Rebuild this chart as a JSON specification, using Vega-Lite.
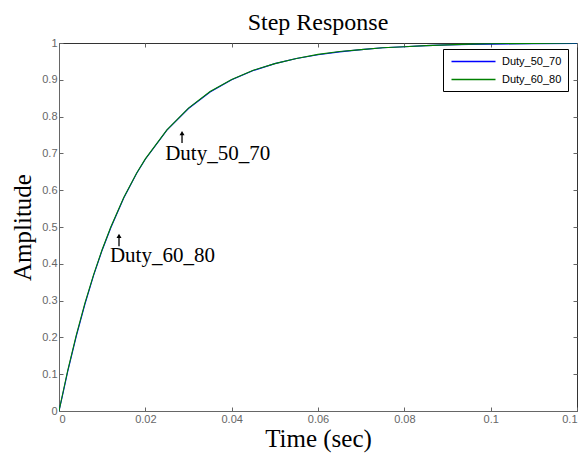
{
  "$schema": "https://vega.github.io/schema/vega-lite/v6.json",
  "width": 518,
  "height": 368,
  "autosize": {"type": "none"},
  "padding": {"left": 59, "top": 43, "right": 11, "bottom": 45},
  "background": "white",
  "title": {"text": "Step Response", "font": "Liberation Serif", "fontSize": 24, "fontWeight": "normal", "color": "black", "offset": 2},
  "config": {
    "view": {"stroke": "#333", "strokeWidth": 1},
    "axis": {"grid": false, "labelFont": "Liberation Sans", "labelFontSize": 11, "labelColor": "#666", "domainColor": "#666", "tickColor": "#666", "tickSize": -4, "format": "~g", "titleFont": "Liberation Serif", "titleFontSize": 25, "titleFontWeight": "normal", "titleColor": "black"}
  },
  "datasets": {
    "resp": [
      {"t": 0, "y": 0, "s": "Duty_50_70"},
      {"t": 0.001, "y": 0.052, "s": "Duty_50_70"},
      {"t": 0.002, "y": 0.106, "s": "Duty_50_70"},
      {"t": 0.004, "y": 0.203, "s": "Duty_50_70"},
      {"t": 0.006, "y": 0.290, "s": "Duty_50_70"},
      {"t": 0.008, "y": 0.368, "s": "Duty_50_70"},
      {"t": 0.010, "y": 0.437, "s": "Duty_50_70"},
      {"t": 0.012, "y": 0.498, "s": "Duty_50_70"},
      {"t": 0.015, "y": 0.579, "s": "Duty_50_70"},
      {"t": 0.018, "y": 0.646, "s": "Duty_50_70"},
      {"t": 0.020, "y": 0.684, "s": "Duty_50_70"},
      {"t": 0.025, "y": 0.763, "s": "Duty_50_70"},
      {"t": 0.030, "y": 0.822, "s": "Duty_50_70"},
      {"t": 0.035, "y": 0.867, "s": "Duty_50_70"},
      {"t": 0.040, "y": 0.900, "s": "Duty_50_70"},
      {"t": 0.045, "y": 0.925, "s": "Duty_50_70"},
      {"t": 0.050, "y": 0.944, "s": "Duty_50_70"},
      {"t": 0.055, "y": 0.958, "s": "Duty_50_70"},
      {"t": 0.060, "y": 0.968, "s": "Duty_50_70"},
      {"t": 0.065, "y": 0.976, "s": "Duty_50_70"},
      {"t": 0.070, "y": 0.982, "s": "Duty_50_70"},
      {"t": 0.075, "y": 0.987, "s": "Duty_50_70"},
      {"t": 0.080, "y": 0.990, "s": "Duty_50_70"},
      {"t": 0.085, "y": 0.993, "s": "Duty_50_70"},
      {"t": 0.090, "y": 0.995, "s": "Duty_50_70"},
      {"t": 0.095, "y": 0.996, "s": "Duty_50_70"},
      {"t": 0.100, "y": 0.997, "s": "Duty_50_70"},
      {"t": 0.110, "y": 0.998, "s": "Duty_50_70"},
      {"t": 0.120, "y": 0.999, "s": "Duty_50_70"},
      {"t": 0, "y": 0, "s": "Duty_60_80"},
      {"t": 0.001, "y": 0.055, "s": "Duty_60_80"},
      {"t": 0.002, "y": 0.109, "s": "Duty_60_80"},
      {"t": 0.004, "y": 0.206, "s": "Duty_60_80"},
      {"t": 0.006, "y": 0.293, "s": "Duty_60_80"},
      {"t": 0.008, "y": 0.370, "s": "Duty_60_80"},
      {"t": 0.010, "y": 0.439, "s": "Duty_60_80"},
      {"t": 0.012, "y": 0.500, "s": "Duty_60_80"},
      {"t": 0.015, "y": 0.580, "s": "Duty_60_80"},
      {"t": 0.018, "y": 0.647, "s": "Duty_60_80"},
      {"t": 0.020, "y": 0.685, "s": "Duty_60_80"},
      {"t": 0.025, "y": 0.764, "s": "Duty_60_80"},
      {"t": 0.030, "y": 0.823, "s": "Duty_60_80"},
      {"t": 0.035, "y": 0.868, "s": "Duty_60_80"},
      {"t": 0.040, "y": 0.901, "s": "Duty_60_80"},
      {"t": 0.045, "y": 0.926, "s": "Duty_60_80"},
      {"t": 0.050, "y": 0.944, "s": "Duty_60_80"},
      {"t": 0.055, "y": 0.958, "s": "Duty_60_80"},
      {"t": 0.060, "y": 0.969, "s": "Duty_60_80"},
      {"t": 0.065, "y": 0.977, "s": "Duty_60_80"},
      {"t": 0.070, "y": 0.982, "s": "Duty_60_80"},
      {"t": 0.075, "y": 0.987, "s": "Duty_60_80"},
      {"t": 0.080, "y": 0.990, "s": "Duty_60_80"},
      {"t": 0.085, "y": 0.993, "s": "Duty_60_80"},
      {"t": 0.090, "y": 0.995, "s": "Duty_60_80"},
      {"t": 0.095, "y": 0.997, "s": "Duty_60_80"},
      {"t": 0.100, "y": 0.998, "s": "Duty_60_80"},
      {"t": 0.110, "y": 0.999, "s": "Duty_60_80"},
      {"t": 0.120, "y": 1.0, "s": "Duty_60_80"}
    ],
    "notes": [
      {"t": 0.0285, "y0": 0.728, "y1": 0.755, "tx": 0.0246, "ty": 0.683, "label": "Duty_50_70"},
      {"t": 0.0139, "y0": 0.448, "y1": 0.476, "tx": 0.0118, "ty": 0.405, "label": "Duty_60_80"}
    ]
  },
  "layer": [
    {
      "data": {"name": "resp"},
      "mark": {"type": "line", "strokeWidth": 1.1, "clip": true},
      "encoding": {
        "x": {"field": "t", "type": "quantitative", "scale": {"domain": [0, 0.12], "nice": false}, "axis": {"title": "Time (sec)", "values": [0, 0.02, 0.04, 0.06, 0.08, 0.1, 0.12], "labelPadding": 6, "titlePadding": 2}},
        "y": {"field": "y", "type": "quantitative", "scale": {"domain": [0, 1], "nice": false}, "axis": {"title": "Amplitude", "values": [0, 0.1, 0.2, 0.3, 0.4, 0.5, 0.6, 0.7, 0.8, 0.9, 1], "labelPadding": 6, "titlePadding": 6}},
        "color": {"field": "s", "type": "nominal", "scale": {"domain": ["Duty_50_70", "Duty_60_80"], "range": ["#0000ff", "#008000"]},
          "legend": {"title": null, "orient": "none", "legendX": 384, "legendY": 6, "strokeColor": "black", "fillColor": "white", "padding": 6, "labelFont": "Liberation Sans", "labelFontSize": 11, "labelColor": "black", "symbolType": "M-4,0L4,0", "symbolSize": 121, "symbolOffset": 18, "symbolStrokeWidth": 1.5, "rowPadding": 6, "labelOffset": 22}},
        "order": {"field": "s"}
      }
    },
    {
      "data": {"name": "notes"},
      "mark": {"type": "rule", "color": "black", "strokeWidth": 1.3},
      "encoding": {
        "x": {"field": "t", "type": "quantitative", "axis": {"orient": "top", "labels": false, "title": null, "values": [0, 0.02, 0.04, 0.06, 0.08, 0.1, 0.12], "domain": false}},
        "y": {"field": "y0", "type": "quantitative", "axis": {"orient": "right", "labels": false, "title": null, "values": [0, 0.1, 0.2, 0.3, 0.4, 0.5, 0.6, 0.7, 0.8, 0.9, 1], "domain": false}},
        "y2": {"field": "y1"}
      }
    },
    {
      "data": {"name": "notes"},
      "mark": {"type": "point", "shape": "triangle-up", "filled": true, "color": "black", "size": 25, "opacity": 1},
      "encoding": {
        "x": {"field": "t", "type": "quantitative", "axis": null},
        "y": {"field": "y1", "type": "quantitative", "axis": null}
      }
    },
    {
      "data": {"name": "notes"},
      "mark": {"type": "text", "align": "left", "baseline": "alphabetic", "font": "Liberation Serif", "fontSize": 21, "color": "black"},
      "encoding": {
        "x": {"field": "tx", "type": "quantitative", "axis": null},
        "y": {"field": "ty", "type": "quantitative", "axis": null},
        "text": {"field": "label"}
      }
    }
  ],
  "resolve": {"axis": {"x": "independent", "y": "independent"}}
}
